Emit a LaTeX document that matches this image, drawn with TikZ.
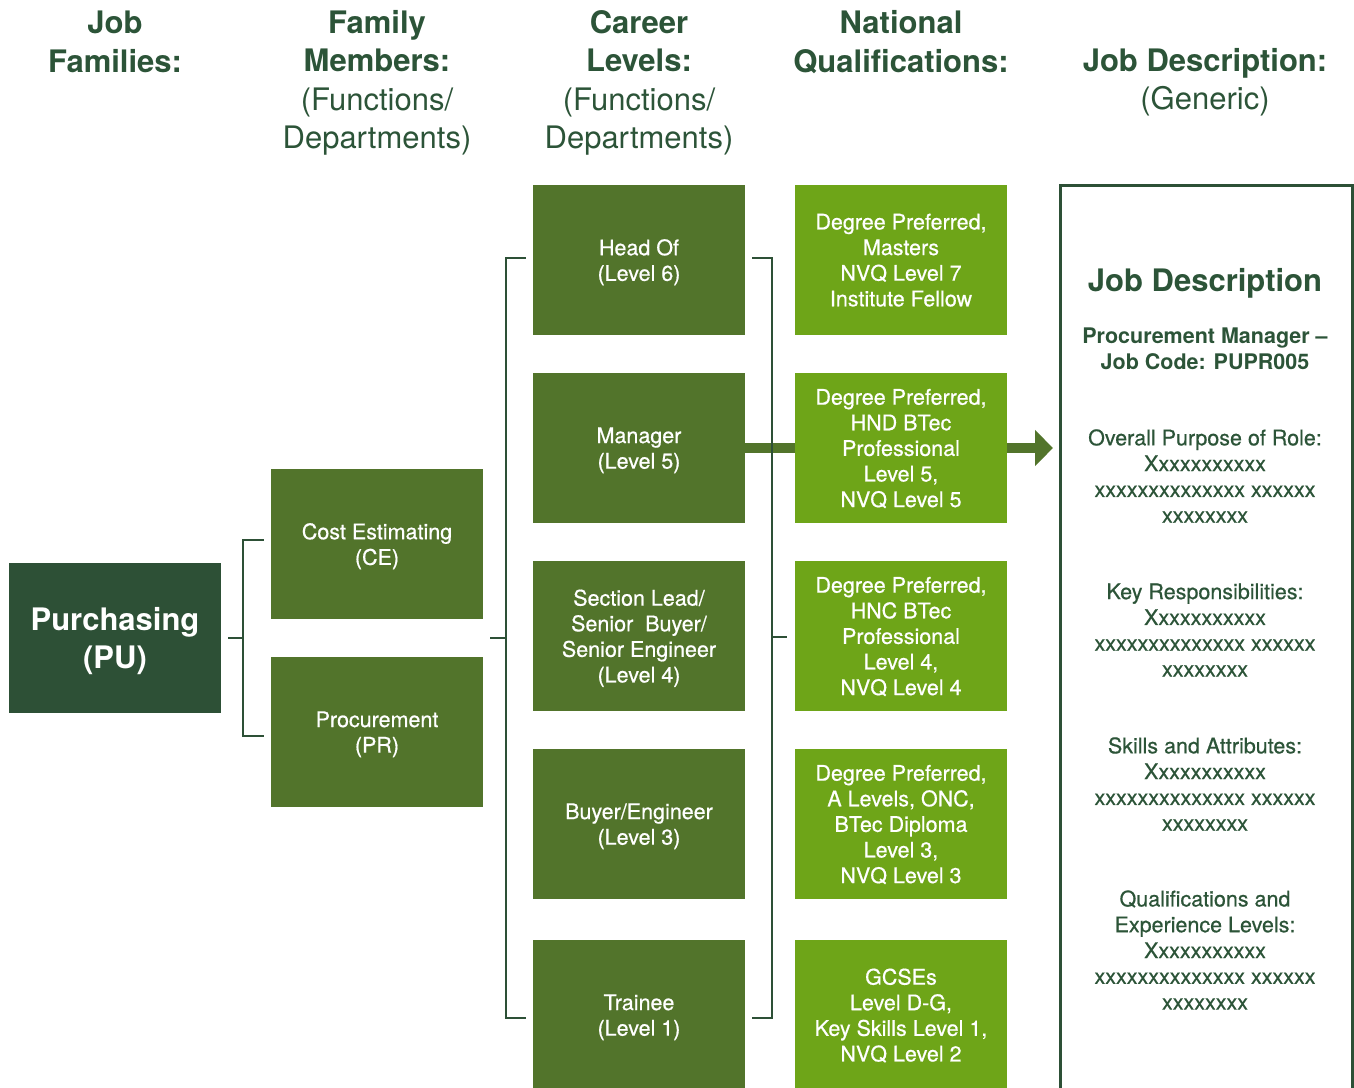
\documentclass[tikz,border=0pt]{standalone}
\usepackage{fontspec}
\setmainfont{TeX Gyre Heros}
\newfontfamily\medfont[FakeBold=0.6]{TeX Gyre Heros}
\usetikzlibrary{arrows.meta,calc}
\definecolor{deepgreen}{RGB}{45,80,54}
\definecolor{boxgreen}{RGB}{82,116,43}
\definecolor{limegreen}{RGB}{110,165,24}
\definecolor{textgreen}{RGB}{44,84,56}
\tikzset{
  hdr/.style={align=center, text=textgreen, inner sep=0pt,
    font=\fontsize{31}{38.5}\selectfont},
  cellbox/.style={rectangle, minimum width=212pt, minimum height=150pt,
    inner sep=0pt, align=center, text=white, text depth=0pt,
    font=\medfont\fontsize{21.5}{25.6}\selectfont},
  rootbox/.style={cellbox, fill=deepgreen, font=\fontsize{31}{38}\selectfont\bfseries},
  fambox/.style={cellbox, fill=boxgreen},
  qualbox/.style={cellbox, fill=limegreen},
  bracket/.style={draw=deepgreen, line width=2.5pt, line join=miter},
  thickbar/.style={draw=boxgreen, line width=10.5pt},
  jdtext/.style={align=center, text=textgreen, inner sep=0pt,
    font=\medfont\fontsize{21.5}{25.8}\selectfont},
}
\begin{document}
\begin{tikzpicture}[x=1pt,y=-1pt]
\useasboundingbox (0,0) rectangle (1354,1087);

% column headings
\node[hdr] (h1) at (115,42) {\textbf{Job}\\\textbf{Families:}};
\node[hdr] (h2) at (377,83) {\textbf{Family}\\\textbf{Members:}\\(Functions/\\Departments)};
\node[hdr] (h3) at (639,83) {\textbf{Career}\\\textbf{Levels:}\\(Functions/\\Departments)};
\node[hdr] (h4) at (901,42) {\textbf{National}\\\textbf{Qualifications:}};
\node[hdr] (h5) at (1205,82) {\textbf{Job Description:}\\(Generic)};

% job family
\node[rootbox] (pu) at (115,638) {Purchasing\\(PU)};

% family members
\node[fambox] (ce) at (377,544) {Cost Estimating\\(CE)};
\node[fambox] (pr) at (377,732) {Procurement\\(PR)};

% career levels
\node[fambox] (c6) at (639,260) {Head Of\\(Level 6)};
\node[fambox] (c5) at (639,448) {Manager\\(Level 5)};
\node[fambox] (c4) at (639,636) {Section Lead/\\Senior\ \ Buyer/\\Senior Engineer\\(Level 4)};
\node[fambox] (c3) at (639,824) {Buyer/Engineer\\(Level 3)};
\node[fambox] (c1) at (639,1015) {Trainee\\(Level 1)};

% national qualifications
\node[qualbox] (q6) at (901,260) {Degree Preferred,\\Masters\\NVQ Level 7\\Institute Fellow};
\node[qualbox] (q5) at (901,448) {Degree Preferred,\\HND BTec\\Professional\\Level 5,\\NVQ Level 5};
\node[qualbox] (q4) at (901,636) {Degree Preferred,\\HNC BTec\\Professional\\Level 4,\\NVQ Level 4};
\node[qualbox] (q3) at (901,824) {Degree Preferred,\\A Levels, ONC,\\BTec Diploma\\Level 3,\\NVQ Level 3};
\node[qualbox] (q1) at (901,1015) {GCSEs\\Level D-G,\\Key Skills Level 1,\\NVQ Level 2};

% job description sheet
\node[draw=deepgreen, line width=2.5pt, minimum width=292pt, minimum height=940pt,
      inner sep=0pt, anchor=north west] (jd) at (1059,184) {};
\node[jdtext, font=\fontsize{31}{38}\selectfont\bfseries] (jdt) at (1205,283) {Job Description};
\node[jdtext, font=\fontsize{21.5}{25.8}\selectfont\bfseries] (jdc) at (1205,349)
  {Procurement Manager –\\Job Code: PUPR005};
\node[jdtext] (jd1) at (1205,476)
  {Overall Purpose of Role:\\Xxxxxxxxxxx\\xxxxxxxxxxxxxx xxxxxx\\xxxxxxxx};
\node[jdtext] (jd2) at (1205,630)
  {Key Responsibilities:\\Xxxxxxxxxxx\\xxxxxxxxxxxxxx xxxxxx\\xxxxxxxx};
\node[jdtext] (jd3) at (1205,784)
  {Skills and Attributes:\\Xxxxxxxxxxx\\xxxxxxxxxxxxxx xxxxxx\\xxxxxxxx};
\node[jdtext] (jd4) at (1205,950)
  {Qualifications and\\Experience Levels:\\Xxxxxxxxxxx\\xxxxxxxxxxxxxx xxxxxx\\xxxxxxxx};

% highlighted path: manager -> qualification -> job description
\draw[thickbar] (c5.east) -- (q5.west);
\draw[thickbar, -{Triangle[length=18pt,width=35pt]}]
  (q5.east) -- ([xshift=-6pt]q5.east -| jd.west);

% bracket: job family -> family members
\draw[bracket] ([xshift=7pt]pu.east) -- ++(15,0);
\draw[bracket] ([xshift=-7pt,yshift=4pt]ce.west) -- ++(-21,0)
  |- ([xshift=-7pt,yshift=-4pt]pr.west);

% bracket: family members -> career levels
\coordinate (fammid) at ($(ce.east)!0.5!(pr.east)$);
\draw[bracket] ([xshift=7pt]fammid) -- ++(16,0);
\draw[bracket] ([xshift=-7pt,yshift=2pt]c6.west) -- ++(-20,0)
  |- ([xshift=-7pt,yshift=-3pt]c1.west);

% bracket: career levels -> qualifications
\draw[bracket] ([xshift=7pt,yshift=2pt]c6.east) -- ++(20,0)
  |- ([xshift=7pt,yshift=-3pt]c1.east);
\draw[bracket] ([xshift=27pt,yshift=-1pt]c4.east) -- ++(15,0);
\end{tikzpicture}
\end{document}
